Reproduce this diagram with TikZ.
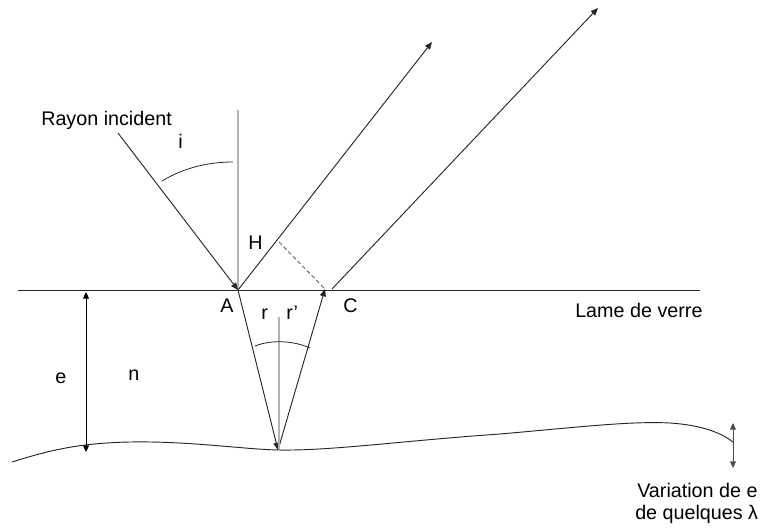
\documentclass[tikz,border=0pt]{standalone}
\usepackage{fontspec}
\setmainfont{Liberation Sans}
\usetikzlibrary{arrows.meta}
\tikzset{
  ray/.style={draw=black!85, line width=0.7pt},
  raytip/.style={ray, -{Triangle[length=5.5pt,width=4.5pt]}},
  normalline/.style={draw=black!30, line width=0.8pt},
  lbl/.style={font=\fontsize{14.8}{17}\selectfont, inner sep=0pt, anchor=base west},
  dbl/.style={draw=black, line width=0.7pt, {Triangle[length=5pt,width=4.5pt]}-{Triangle[length=5pt,width=4.5pt]}}
}
\begin{document}
\begin{tikzpicture}[x=0.75pt,y=-0.75pt]
\useasboundingbox (0,0) rectangle (761,528);
% points
\coordinate (L) at (18,290);
\coordinate (R) at (700,290);
\coordinate (A) at (238,290);
\coordinate (Ntop) at (238,110);
\coordinate (S) at (118,133);
\coordinate (T1) at (432,42);
\coordinate (C0) at (332,289);
\coordinate (T2) at (598,8);
\coordinate (H) at (279,242);
\coordinate (C) at (325,289);
\coordinate (B) at (278,450);
\coordinate (Nin) at (279,317);
\coordinate (Nbot) at (279,450);
\coordinate (Et) at (86,292);
\coordinate (Eb) at (86,452);
\coordinate (Vt) at (733,423);
\coordinate (Vb) at (733,468);

% surface of glass
\draw[ray] (L) -- (R);
% normal at A
\draw[normalline] (Ntop) -- (A);
% incident ray
\draw[raytip] (S) -- (A);
% angle i
\draw[ray, line width=0.6pt] (162,181) .. controls (185,167) and (210,162) .. (233,162);
% reflected rays
\draw[raytip] (A) -- (T1);
\draw[raytip] (C0) -- (T2);
% dashed H-C
\draw[ray, draw=black!60, dashed, dash pattern=on 3pt off 2pt] (H) -- (C);
% refracted path
\draw[raytip] (A) -- (B);
\draw[raytip] (B) -- (C);
% inner normal
\draw[normalline] (Nin) -- (Nbot);
% angle r r'
\draw[ray, line width=0.6pt] (255,346) .. controls (270,340) and (292,340) .. (310,348);
% thickness e
\draw[dbl] (Et) -- (Eb);
% lower surface
\draw[ray] (12,462) .. controls (50,450) and (80,443) .. (130,442)
  .. controls (190,441) and (240,449) .. (278,450)
  .. controls (330,451) and (400,441) .. (500,434)
  .. controls (580,427) and (630,421) .. (670,423)
  .. controls (700,425) and (720,432) .. (733,442);
% variation arrow
\draw[dbl, draw=black!70] (Vt) -- (Vb);

% labels
\node[lbl] (lray) at (41,126) {Rayon incident};
\node[lbl] (li) at (178,148) {i};
\node[lbl] (lH) at (248,249) {H};
\node[lbl] (lA) at (220,312) {A};
\node[lbl] (lC) at (343,312) {C};
\node[lbl] (lr) at (261,319) {r};
\node[lbl] (lrp) at (286,319) {r'};
\node[lbl] (le) at (55,383) {e};
\node[lbl] (ln) at (128,380) {n};
\node[lbl] (llame) at (575,317) {Lame de verre};
\node[lbl] (lvar) at (637,497) {Variation de e};
\node[lbl] (lq) at (635,519) {de quelques λ};
\end{tikzpicture}
\end{document}
